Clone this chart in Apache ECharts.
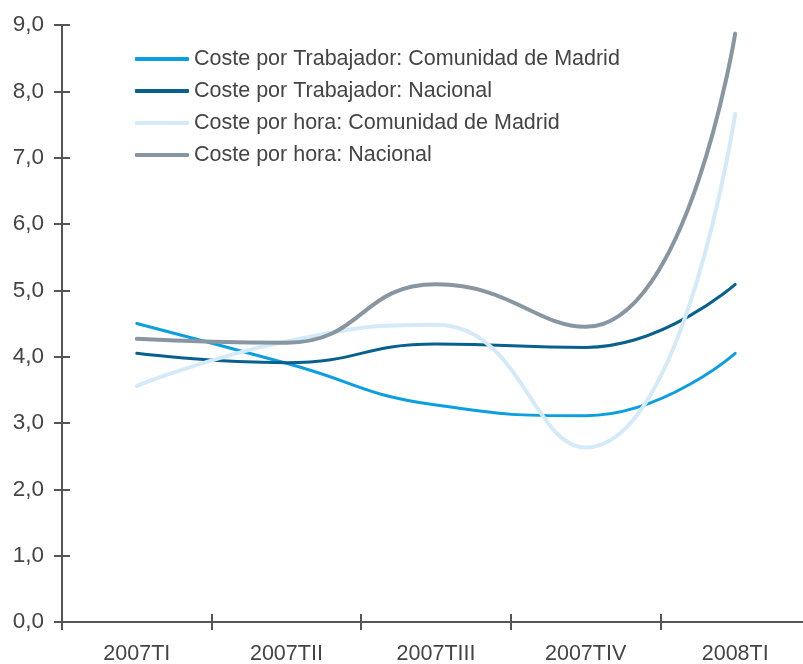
<!DOCTYPE html>
<html>
<head>
<meta charset="utf-8">
<script src="https://cdn.jsdelivr.net/npm/echarts@6/dist/echarts.min.js"></script>
<style>
html, body { margin: 0; padding: 0; background: #fff; }
#echart { width: 803px; height: 664px; }
</style>
</head>
<body>
<div id="echart"></div>
<script>
// Data
var categories = ['2007TI', '2007TII', '2007TIII', '2007TIV', '2008TI'];
var seriesNames = [
	'Coste por Trabajador: Comunidad de Madrid',
	'Coste por Trabajador: Nacional',
	'Coste por hora: Comunidad de Madrid',
	'Coste por hora: Nacional'
];
var madridTrabajador = [4.50, 3.90, 3.27, 3.11, 4.05];
var nacionalTrabajador = [4.05, 3.91, 4.19, 4.14, 5.09];
var madridHora = [3.56, 4.23, 4.48, 2.63, 7.66];
var nacionalHora = [4.27, 4.21, 5.09, 4.45, 8.87];

var colors = ['#0c9fe0', '#08608c', '#d4eaf8', '#8796a0'];
var widths = [3, 3, 4, 4];
var axisColor = '#555555';
var font = '"Liberation Sans", Arial, sans-serif';

var myChart = echarts.init(document.getElementById('echart'));

function makeSeries(name, data, i) {
	return {
		name: name,
		type: 'line',
		data: data,
		smooth: true,
		symbol: 'none',
		lineStyle: { color: colors[i], width: widths[i], cap: 'round' },
		itemStyle: { color: colors[i] }
	};
}

option = {
	animation: false,
	color: colors,
	// axis runs a little past the right edge, as in the original
	grid: { left: 62, width: 748, top: 25, bottom: 42, outerBoundsMode: 'none' },
	legend: {
		orient: 'vertical',
		left: 135,
		top: 48,
		padding: 0,
		icon: 'roundRect',
		itemWidth: 54,
		itemHeight: 4,
		itemGap: 10,
		data: seriesNames,
		textStyle: { color: '#444444', fontSize: 21.5, fontFamily: font, lineHeight: 22 }
	},
	xAxis: [{
		type: 'category',
		data: categories,
		boundaryGap: true,
		axisLine: { lineStyle: { color: axisColor, width: 2 } },
		axisTick: { show: true, length: 8, lineStyle: { color: axisColor, width: 2 } },
		axisLabel: { color: '#444444', fontSize: 21.5, fontFamily: font, margin: 21 },
		splitLine: { show: false }
	}, {
		type: 'category',
		data: categories,
		position: 'bottom',
		boundaryGap: true,
		axisLine: { show: false },
		axisTick: { show: true, inside: true, length: 8, lineStyle: { color: axisColor, width: 2 } },
		axisLabel: { show: false },
		splitLine: { show: false }
	}],
	yAxis: [{
		type: 'value',
		min: 0,
		max: 9,
		interval: 1,
		axisLine: { show: true, lineStyle: { color: axisColor, width: 2 } },
		axisTick: { show: true, length: 8, lineStyle: { color: axisColor, width: 2 } },
		axisLabel: {
			color: '#444444', fontSize: 22.5, fontFamily: font, margin: 18,
			formatter: function (v) { return v.toFixed(1).replace('.', ','); }
		},
		splitLine: { show: false }
	}, {
		type: 'value',
		position: 'left',
		min: 0,
		max: 9,
		interval: 1,
		axisLine: { show: false },
		axisTick: { show: true, inside: true, length: 8, lineStyle: { color: axisColor, width: 2 } },
		axisLabel: { show: false },
		splitLine: { show: false }
	}],
	series: [
		makeSeries(seriesNames[0], madridTrabajador, 0),
		makeSeries(seriesNames[1], nacionalTrabajador, 1),
		makeSeries(seriesNames[2], madridHora, 2),
		makeSeries(seriesNames[3], nacionalHora, 3)
	]
};
myChart.setOption(option);
</script>
</body>
</html>
